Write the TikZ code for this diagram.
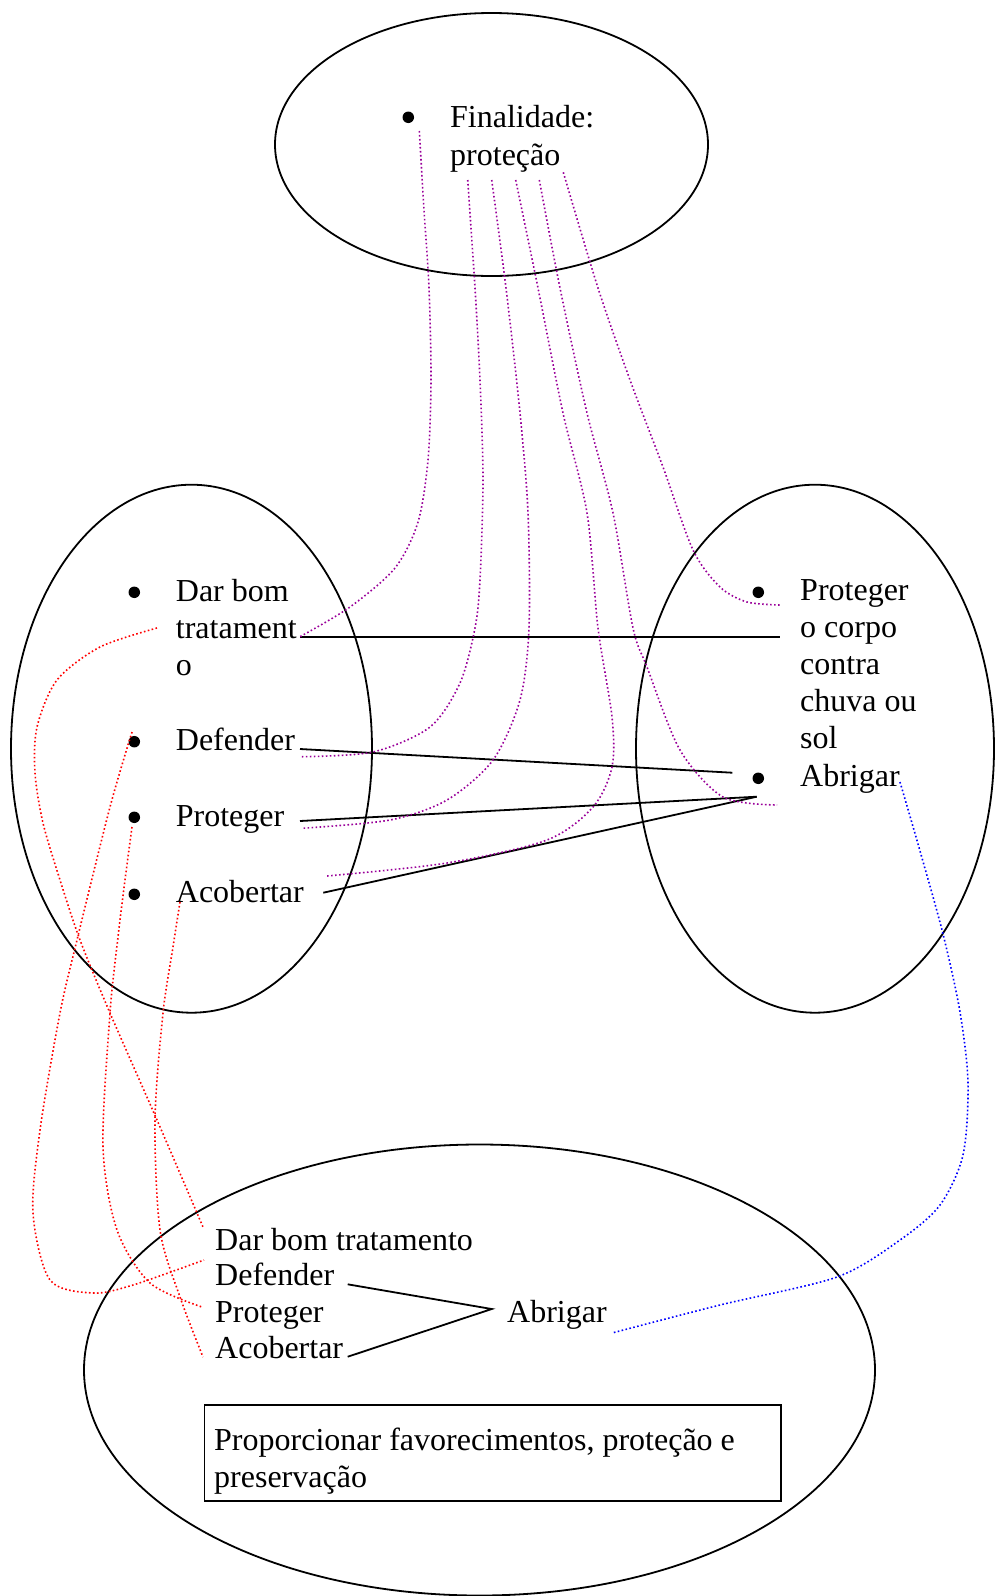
\documentclass[tikz,border=0pt]{standalone}
\usepackage{fontspec}
\setmainfont{Liberation Serif}
\usetikzlibrary{shapes.geometric}
\definecolor{linkpurple}{RGB}{153,0,153}
\begin{document}
\begin{tikzpicture}[x=1pt,y=-1pt,
  % multi-line labels are placed by the baseline of their last line
  txt/.style={anchor=base west, inner sep=0pt, align=left, font=\fontsize{32}{37}\selectfont},
  bullet/.style={circle, fill=black, inner sep=0pt, minimum size=11.5pt},
  group/.style={draw, ellipse, line width=1.8pt, inner sep=0pt},
  link/.style={line width=1.8pt},
  dotlink/.style={line width=1.6pt, dash pattern=on 1.6pt off 2.4pt},
  purplelink/.style={dotlink, draw=linkpurple},
  redlink/.style={dotlink, draw=red},
  bluelink/.style={dotlink, draw=blue},
  curve/.style={smooth, tension=0.5},
]
\useasboundingbox (0,0) rectangle (995,1596);

% the four groups
\node[group, minimum width=433pt, minimum height=263pt] (top) at (491.5,144.5) {};
\node[group, minimum width=361pt, minimum height=528pt] (left) at (191.5,748.7) {};
\node[group, minimum width=358pt, minimum height=528pt] (right) at (815,748.7) {};
\node[group, minimum width=791pt, minimum height=451pt] (bottom) at (479.5,1370) {};

% top group
\node[bullet] (dfin) at (408.3,117.3) {};
\node[txt] (tfin) at (450,165.7) {Finalidade:\\[1pt]proteção};

% left group
\node[bullet] (dldar) at (134.3,592.3) {};
\node[bullet] (dldef) at (134.3,741.7) {};
\node[bullet] (dlpro) at (134.3,817.3) {};
\node[bullet] (dlaco) at (134.3,894.3) {};
\node[txt] (ldar) at (175.7,675) {Dar bom\\tratament\\o};
\node[txt] (ldef) at (175.7,750) {Defender};
\node[txt] (lpro) at (175.7,826) {Proteger};
\node[txt] (laco) at (175.7,902.7) {Acobertar};

% right group
\node[bullet] (drpro) at (758.3,592.3) {};
\node[bullet] (drabr) at (758.3,778.3) {};
\node[txt] (rpro) at (800,748.5) {Proteger\\o corpo\\contra\\chuva ou\\sol};
\node[txt] (rabr) at (800,786.7) {Abrigar};

% bottom group
\node[txt] (bdar) at (215,1250) {Dar bom tratamento};
\node[txt] (bdef) at (215,1285.5) {Defender};
\node[txt] (bpro) at (215,1322.5) {Proteger};
\node[txt] (baco) at (215,1358.5) {Acobertar};
\node[txt] (babr) at (507,1322) {Abrigar};
\node[draw, line width=1.6pt, anchor=north west, minimum width=576.5pt, minimum height=96pt, inner sep=0pt] (pbox) at (203.5,1404) {};
\node[txt] (ptext) at (214,1487.5) {Proporcionar favorecimentos, proteção e\\preservação};

% connector ends
\coordinate (lDarE) at (300,636.7);
\coordinate (rProW) at (780,636.7);
\coordinate (lDefE) at (300,749);
\coordinate (rAbrA) at (732.3,772.7);
\coordinate (lProE) at (300,821);
\coordinate (rAbrB) at (756.7,796.7);
\coordinate (lAcoE) at (323.3,892.7);
\coordinate (bDefE) at (347.7,1284.3);
\coordinate (bAcoE) at (347.7,1356.7);
\coordinate (bAbrW) at (491.7,1309);

\coordinate (fA) at (419.3,131);
\coordinate (fB) at (467.7,180);
\coordinate (fC) at (491.7,180);
\coordinate (fD) at (515.7,180);
\coordinate (fE) at (539.3,180);
\coordinate (fF) at (563.3,172.3);
\coordinate (pDar) at (300,636.7);
\coordinate (pDef) at (301.7,756.7);
\coordinate (pPro) at (301.7,828.3);
\coordinate (pAco) at (327,876);
\coordinate (pRAbr) at (777,805);
\coordinate (pRPro) at (780,605);

\coordinate (rDar) at (157,628);
\coordinate (rDef) at (132,732);
\coordinate (rPro) at (132,827);
\coordinate (rAco) at (180,902);
\coordinate (rbDar) at (203,1227);
\coordinate (rbDef) at (204,1260);
\coordinate (rbPro) at (202,1307);
\coordinate (rbAco) at (203,1357);

\coordinate (blA) at (900,782);
\coordinate (blB) at (612,1333);

% solid links
\draw[link] (lDarE) -- (rProW);
\draw[link] (lDefE) -- (rAbrA);
\draw[link] (lProE) -- (rAbrB);
\draw[link] (lAcoE) -- (rAbrB);
\draw[link] (bDefE) -- (bAbrW) -- (bAcoE);

% purple links from the top group
\draw[purplelink] plot[curve] coordinates {(fA) (424,210) (429,288) (431,380) (428,460) (418,522) (395,568) (350,607) (pDar)};
\draw[purplelink] plot[curve] coordinates {(fB) (475,288) (480,380) (483,480) (480,580) (475,628) (460,683) (430,727) (373,752) (pDef)};
\draw[purplelink] plot[curve] coordinates {(fC) (506,288) (520,413) (528,513) (529,628) (520,700) (493,760) (447,800) (390,820) (pPro)};
\draw[purplelink] plot[curve] coordinates {(fD) (538,288) (563,413) (587,513) (598,628) (612,717) (612,767) (593,807) (547,840) (447,863) (pAco)};
\draw[purplelink] plot[curve] coordinates {(fE) (560,288) (587,413) (613,513) (633,628) (647,667) (680,750) (723,797) (pRAbr)};
\draw[purplelink] plot[curve] coordinates {(fF) (598,288) (630,380) (663,467) (693,550) (720,587) (747,602) (pRPro)};

% red links from the left group to the bottom group
\draw[redlink] plot[curve] coordinates {(rDar) (100,647) (57,680) (37,727) (35,773) (43,823) (60,880) (80,940) (110,1013) (157,1120) (rbDar)};
\draw[redlink] plot[curve] coordinates {(rDef) (110,807) (77,940) (60,1013) (40,1130) (33,1213) (50,1280) (93,1293) (133,1285) (rbDef)};
\draw[redlink] plot[curve] coordinates {(rPro) (125,880) (118,937) (110,1013) (103,1147) (117,1230) (150,1283) (rbPro)};
\draw[redlink] plot[curve] coordinates {(rAco) (173,947) (163,1013) (155,1120) (160,1230) (180,1297) (rbAco)};

% blue link between the two Abrigar
\draw[bluelink] plot[curve] coordinates {(blA) (920,851) (943,934) (960,1012) (968,1083) (963,1155) (940,1205) (900,1240) (837,1277) (720,1305) (blB)};
\end{tikzpicture}
\end{document}
